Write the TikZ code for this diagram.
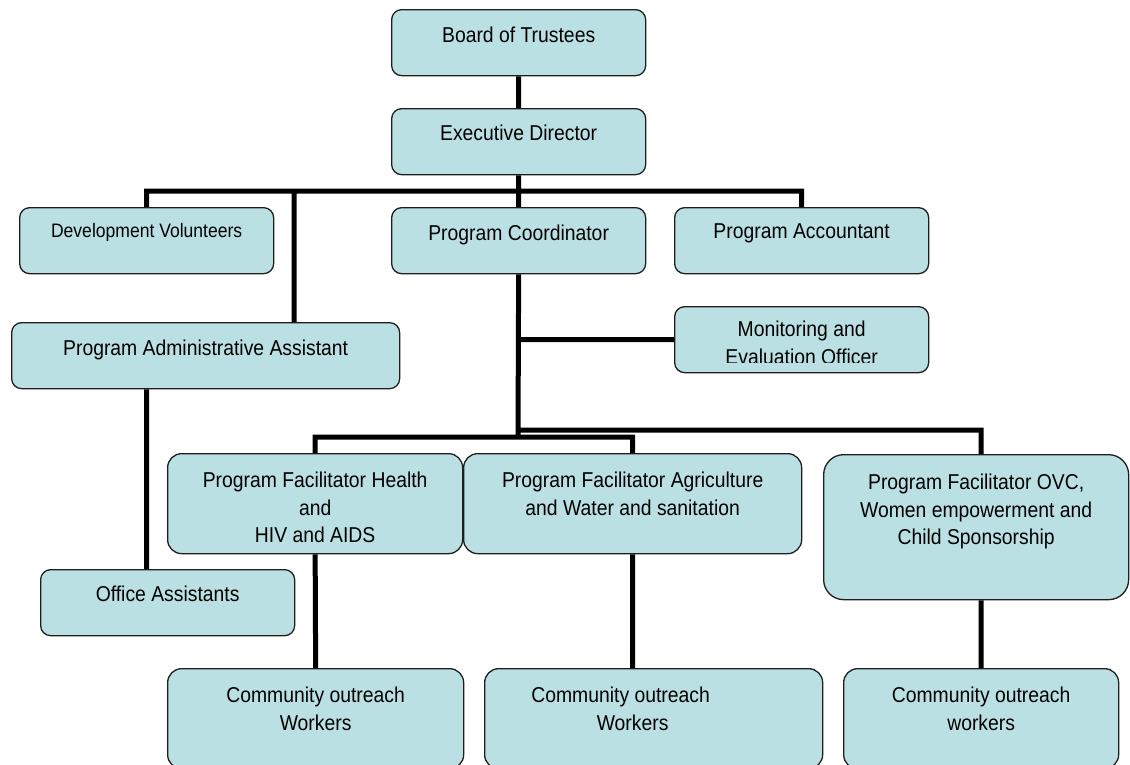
\documentclass[tikz,border=0pt]{standalone}
\usepackage{fontspec}
\setmainfont{Liberation Sans}[FakeStretch=0.9]
\usepackage{tikz}
\usetikzlibrary{calc}
\usetikzlibrary{positioning}
\definecolor{boxFill}{RGB}{187,224,227}
\definecolor{boxLine}{RGB}{30,30,30}
\tikzset{
  orgBox/.style={%
    rectangle, draw=boxLine, fill=boxFill, line width=1.3pt,
    rounded corners=10pt, anchor=north west, inner sep=0pt,
  },
  orgText/.style={%
    anchor=north, inner sep=0pt, align=center, text=black,
    font=\fontsize{21.5}{27.5}\selectfont,
  },
  orgLink/.style={%
    draw=black, line width=5pt,
  }
}

\begin{document}
\begin{tikzpicture}[x=1pt,y=-1pt]
          \useasboundingbox (0,0) rectangle (1130,764);

          \coordinate (busTop) at (518,191);
          \coordinate (adminTap) at (294,191);
          \coordinate (busLeft) at (518,437);
          \coordinate (busRight) at (518,430);

          \node[orgBox,minimum width=254pt,minimum height=66pt] (board) at (391,9) {};
          \node[orgBox,minimum width=254pt,minimum height=66pt] (exec) at (391,108) {};
          \node[orgBox,minimum width=254pt,minimum height=66pt] (devVolunteers) at (19,207) {};
          \node[orgBox,minimum width=254pt,minimum height=66pt] (progCoord) at (391,207) {};
          \node[orgBox,minimum width=254pt,minimum height=66pt] (progAccount) at (674,207) {};
          \node[orgBox,minimum width=254pt,minimum height=66pt] (monEval) at (674,306) {};
          \node[orgBox,minimum width=388pt,minimum height=66pt] (adminAssist) at (11,322) {};
          \node[orgBox,minimum width=254pt,minimum height=66pt] (officeAssist) at (40,569) {};
          \node[orgBox,minimum width=295pt,minimum height=100pt,rounded corners=14pt] (health) at (167,453) {};
          \node[orgBox,minimum width=338pt,minimum height=100pt,rounded corners=14pt] (agri) at (463,453) {};
          \node[orgBox,minimum width=305pt,minimum height=145pt,rounded corners=20pt] (ovc) at (823,454) {};
          \node[orgBox,minimum width=296pt,minimum height=100pt,rounded corners=14pt] (outreachA) at (167,668) {};
          \node[orgBox,minimum width=338pt,minimum height=100pt,rounded corners=14pt] (outreachB) at (484,668) {};
          \node[orgBox,minimum width=275pt,minimum height=100pt,rounded corners=14pt] (outreachC) at (843,668) {};

          \draw[orgLink]
          (board.south) -- (exec.north)
          (exec.south) -- (progCoord.north)
          (busTop) -| (devVolunteers.north)
          (busTop) -| (progAccount.north)
          (adminTap) -- (adminTap |- adminAssist.north)
          (adminAssist.south -| devVolunteers) -- (officeAssist.north -| devVolunteers)
          (progCoord.south) -- (busLeft)
          (monEval.west) -- (monEval.west -| progCoord)
          (health.north) |- (busLeft) -| (agri.north)
          (busRight) -| (ovc.north -| outreachC)
          (health.south) -- (outreachA.north)
          (agri.south) -- (agri.south |- outreachB.north)
          (ovc.south -| outreachC) -- (outreachC.north)
          ;

          \node[orgText] (boardText) at ([yshift=-18pt]board.north) {Board of Trustees};
          \node[orgText] (execText) at ([yshift=-17pt]exec.north) {Executive Director};
          \node[orgText,font=\fontsize{19.5}{25}\selectfont] (devVolunteersText) at ([yshift=-16pt]devVolunteers.north) {Development Volunteers};
          \node[orgText] (progCoordText) at ([yshift=-18pt]progCoord.north) {Program Coordinator};
          \node[orgText] (progAccountText) at ([yshift=-17pt]progAccount.north) {Program Accountant};
          \node[orgText] (adminAssistText) at ([yshift=-18pt]adminAssist.north) {Program Administrative Assistant};
          \node[orgText] (officeAssistText) at ([yshift=-17pt]officeAssist.north) {Office Assistants};
          \node[orgText] (healthText) at ([yshift=-19pt]health.north) {Program Facilitator Health\\and\\HIV and AIDS};
          \node[orgText] (agriText) at ([yshift=-19pt]agri.north) {Program Facilitator Agriculture\\and Water and sanitation};
          \node[orgText] (ovcText) at ([yshift=-20pt]ovc.north) {Program Facilitator OVC,\\Women empowerment and\\Child Sponsorship};
          \node[orgText] (outreachAText) at ([yshift=-19pt]outreachA.north) {Community outreach\\Workers};
          \node[orgText] (outreachBText) at ([xshift=-33pt,yshift=-19pt]outreachB.north) {Community outreach\\\hspace*{24pt}Workers};
          \node[orgText] (outreachCText) at ([yshift=-19pt]outreachC.north) {Community outreach\\workers};
          \begin{scope}
            \clip (674,306) rectangle (928,362);
            \node[orgText] (monEvalText) at ([yshift=-15pt]monEval.north) {Monitoring and\\Evaluation Officer};
          \end{scope}
        \end{tikzpicture}
\end{document}
